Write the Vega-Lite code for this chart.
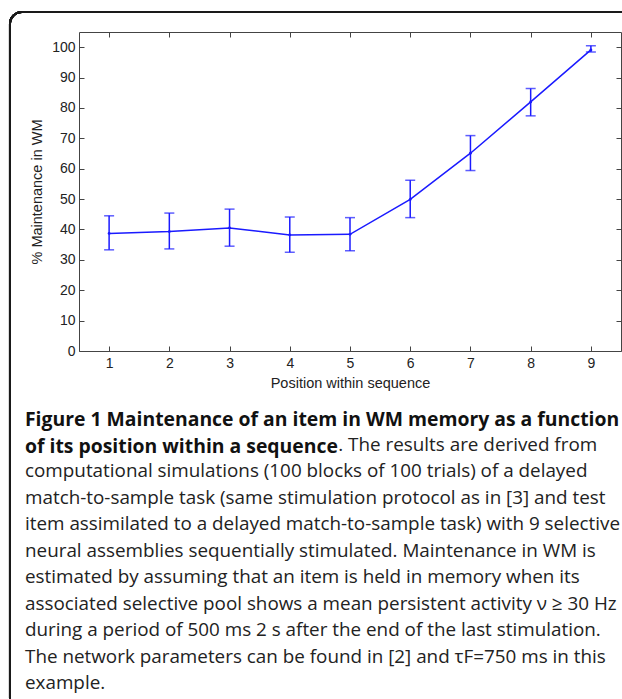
{
  "$schema": "https://vega.github.io/schema/vega-lite/v6.json",
  "width": 542,
  "height": 319,
  "autosize": {"type": "none"},
  "padding": {"left": 79, "top": 32, "right": 1, "bottom": 348},
  "background": "white",
  "config": {
    "view": {"stroke": null},
    "axis": {
      "labelFont": "Liberation Sans",
      "labelFontSize": 14,
      "labelColor": "#222",
      "titleFont": "Liberation Sans",
      "titleFontSize": 14.5,
      "titleFontWeight": "normal",
      "titleColor": "#222",
      "tickColor": "#444",
      "domainColor": "#444",
      "tickSize": -5,
      "grid": false
    }
  },
  "data": {
    "values": [
      {"pos": 1, "mean": 38.7, "lo": 33.3, "hi": 44.5},
      {"pos": 2, "mean": 39.3, "lo": 33.6, "hi": 45.4},
      {"pos": 3, "mean": 40.5, "lo": 34.5, "hi": 46.7},
      {"pos": 4, "mean": 38.2, "lo": 32.5, "hi": 44.1},
      {"pos": 5, "mean": 38.4, "lo": 33.0, "hi": 43.9},
      {"pos": 6, "mean": 49.9, "lo": 43.9, "hi": 56.2},
      {"pos": 7, "mean": 65.1, "lo": 59.4, "hi": 70.9},
      {"pos": 8, "mean": 82.0, "lo": 77.4, "hi": 86.4},
      {"pos": 9, "mean": 99.1, "lo": 98.4, "hi": 100.5}
    ]
  },
  "title": {
    "text": ["Figure 1 Maintenance of an item in WM memory as a function", "of its position within a sequence"],
    "orient": "bottom",
    "anchor": "start",
    "frame": "group",
    "dx": -54,
    "offset": -300,
    "font": "Open Sans",
    "fontSize": 19.36,
    "fontWeight": "bold",
    "color": "#111",
    "lineHeight": 26.5,
    "subtitle": [
      "\u200b\u00a0\u00a0\u00a0\u00a0\u00a0\u00a0\u00a0\u00a0\u00a0\u00a0\u00a0\u00a0\u00a0\u00a0\u00a0\u00a0\u00a0\u00a0\u00a0\u00a0\u00a0\u00a0\u00a0\u00a0\u00a0\u00a0\u00a0\u00a0\u00a0\u00a0\u00a0\u00a0\u00a0\u00a0\u00a0\u00a0\u00a0\u00a0\u00a0\u00a0\u00a0\u00a0\u00a0\u00a0\u00a0\u00a0\u00a0\u00a0\u00a0\u00a0\u00a0\u00a0\u00a0\u00a0\u00a0\u00a0\u00a0\u00a0\u00a0\u00a0\u00a0\u00a0\u00a0\u00a0. The results are derived from",
      "computational simulations (100 blocks of 100 trials) of a delayed",
      "match-to-sample task (same stimulation protocol as in [3] and test",
      "item assimilated to a delayed match-to-sample task) with 9 selective",
      "neural assemblies sequentially stimulated. Maintenance in WM is",
      "estimated by assuming that an item is held in memory when its",
      "associated selective pool shows a mean persistent activity ν ≥ 30 Hz",
      "during a period of 500 ms 2 s after the end of the last stimulation.",
      "The network parameters can be found in [2] and τF=750 ms in this",
      "example."
    ],
    "subtitleFont": "Open Sans",
    "subtitleFontSize": 18.85,
    "subtitleFontWeight": "normal",
    "subtitleColor": "#222",
    "subtitleLineHeight": 26.5,
    "subtitlePadding": -21.1
  },
  "layer": [
    {
      "mark": {"type": "rect", "fillOpacity": 0, "stroke": "#1a1a1a", "strokeWidth": 2, "cornerRadius": 12, "clip": false},
      "encoding": {
        "x": {"datum": -0.646, "type": "quantitative", "scale": {"domain": [0.5, 9.5]}, "axis": null},
        "x2": {"datum": 9.9},
        "y": {"datum": 111.6, "type": "quantitative", "scale": {"domain": [0, 105]}, "axis": null},
        "y2": {"datum": -118.2}
      }
    },
    {
      "mark": {"type": "line", "color": "#1a1aff", "strokeWidth": 1.5},
      "encoding": {
        "x": {"field": "pos", "type": "quantitative", "scale": {"domain": [0.5, 9.5], "nice": false, "zero": false},
              "axis": {"orient": "bottom", "values": [1, 2, 3, 4, 5, 6, 7, 8, 9], "title": "Position within sequence", "labelPadding": 10, "titlePadding": 6}},
        "y": {"field": "mean", "type": "quantitative", "scale": {"domain": [0, 105], "nice": false},
              "axis": {"orient": "left", "values": [0, 10, 20, 30, 40, 50, 60, 70, 80, 90, 100], "title": "% Maintenance in WM", "labelPadding": 9, "titlePadding": 7}}
      }
    },
    {
      "mark": {"type": "point", "filled": true, "color": "#1a1aff", "size": 8, "opacity": 1},
      "encoding": {
        "x": {"field": "pos", "type": "quantitative", "axis": null},
        "y": {"field": "mean", "type": "quantitative", "axis": null}
      }
    },
    {
      "mark": {"type": "rule", "color": "#1a1aff", "strokeWidth": 1.5},
      "encoding": {
        "x": {"field": "pos", "type": "quantitative",
              "axis": {"orient": "top", "values": [1, 2, 3, 4, 5, 6, 7, 8, 9], "labels": false, "title": null}},
        "y": {"field": "lo", "type": "quantitative",
              "axis": {"orient": "right", "values": [0, 10, 20, 30, 40, 50, 60, 70, 80, 90, 100], "labels": false, "title": null}},
        "y2": {"field": "hi"}
      }
    },
    {
      "mark": {"type": "tick", "orient": "horizontal", "color": "#1a1aff", "size": 10, "thickness": 1.5},
      "encoding": {
        "x": {"field": "pos", "type": "quantitative", "axis": null},
        "y": {"field": "lo", "type": "quantitative", "axis": null}
      }
    },
    {
      "mark": {"type": "tick", "orient": "horizontal", "color": "#1a1aff", "size": 10, "thickness": 1.5},
      "encoding": {
        "x": {"field": "pos", "type": "quantitative", "axis": null},
        "y": {"field": "hi", "type": "quantitative", "axis": null}
      }
    }
  ],
  "resolve": {"axis": {"x": "independent", "y": "independent"}}
}
